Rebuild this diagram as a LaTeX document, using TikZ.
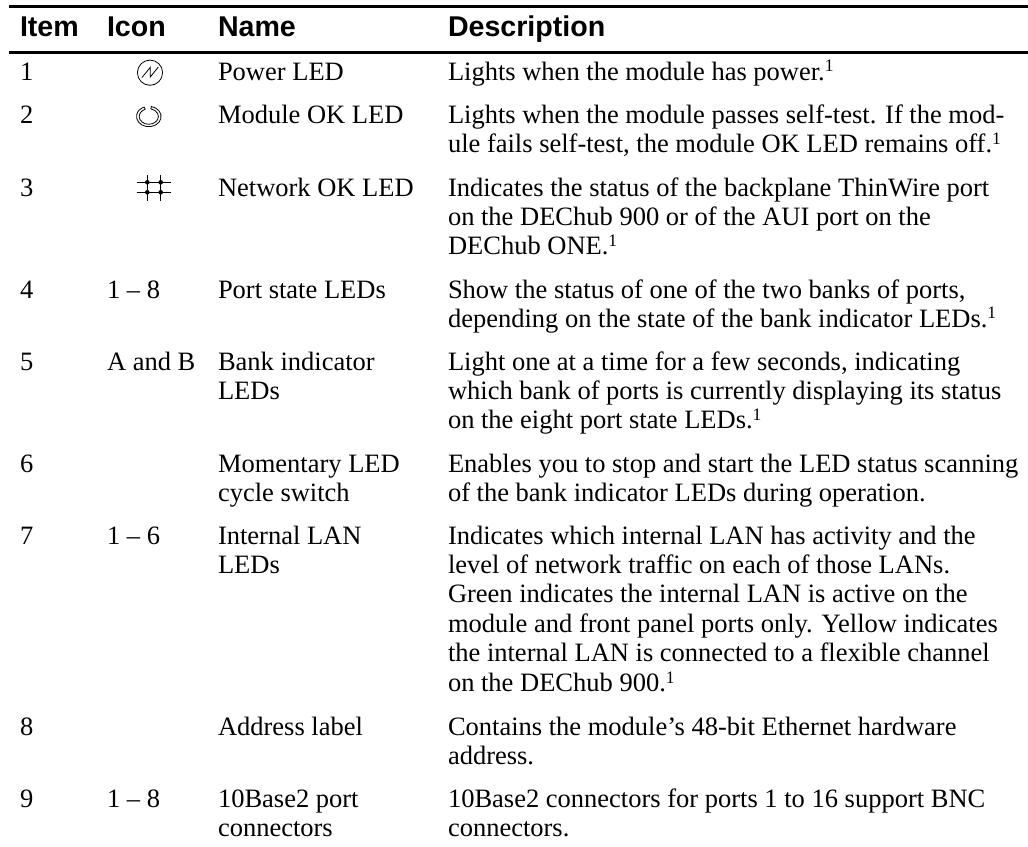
\documentclass[tikz,border=0pt]{standalone}
\usepackage{fontspec}
\setmainfont{Liberation Serif}
\newfontfamily\hdfont{Liberation Sans}
\newcommand{\bodysize}{\fontsize{26.5}{29.4}\selectfont}
\newcommand{\fn}{\raisebox{8.3pt}{\fontsize{17.5}{17.5}\selectfont 1}}
\begin{document}
\begin{tikzpicture}[x=1pt,y=-1pt,
  cell/.style={anchor=base west,inner sep=0pt,outer sep=0pt,font=\bodysize},
  head/.style={anchor=base west,inner sep=0pt,outer sep=0pt,font=\hdfont\bfseries\fontsize{28.6}{34}\selectfont},
  rulea/.style={line width=3pt,black},
  ico/.style={line width=0.8pt,black},
  gridline/.style={line width=1.1pt,black},
  griddot/.style={circle,fill=black,inner sep=0pt,minimum size=4.6pt}]
\useasboundingbox[fill=white] (0,0) rectangle (1028,846);
\coordinate (tl) at (9,6.7); \coordinate (tr) at (1028,6.7);
\coordinate (ml) at (9,52.8); \coordinate (mr) at (1028,52.8);
\draw[rulea] (tl)--(tr);
\draw[rulea] (ml)--(mr);
\node[head] (h1) at (20,36) {Item};
\node[head] (h2) at (107,36) {Icon};
\node[head] (h3) at (218,36) {Name};
\node[head] (h4) at (448,36) {Description};
% row 1
\node[cell] (i1) at (20,80) {1};
\node[cell] (n1) at (218,80) {Power LED};
\node[cell] (d1) at (448,80) {Lights when the module has power.\fn};
\coordinate (c1) at (150,72.7);
\draw[ico] (c1) circle (12.6);
\draw[ico,line join=miter] (142,77.5) -- (150.3,67.3) -- (150.3,77) -- (158.3,67);
% row 2
\node[cell] (i2) at (20,123.3) {2};
\node[cell] (n2) at (218,123.3) {Module OK LED};
\node[cell] (d2a) at (448,123.3) {Lights when the module passes self-test. If the mod-};
\node[cell] (d2b) at (448,152.7) {ule fails self-test, the module OK LED remains off.\fn};
\coordinate (c2) at (148.8,116.5);
\draw[ico,line join=round] (c2) ++(-78:12.3 and 10.2) arc[start angle=-78,end angle=248,x radius=12.3,y radius=10.2]
  -- ++(1.0,2.2) arc[start angle=248,end angle=-78,x radius=9.6,y radius=7.8] -- cycle;
% row 3
\node[cell] (i3) at (20,196) {3};
\node[cell] (n3) at (218,196) {Network OK LED};
\node[cell] (d3a) at (448,196) {Indicates the status of the backplane ThinWire port};
\node[cell] (d3b) at (448,225.4) {on the DEChub 900 or of the AUI port on the};
\node[cell] (d3c) at (448,254.8) {DEChub ONE.\fn};
\coordinate (g1) at (137.3,182.3); \coordinate (g2) at (170.7,182.3);
\coordinate (g3) at (137.3,192.3); \coordinate (g4) at (170.7,192.3);
\coordinate (g5) at (147.3,175); \coordinate (g6) at (147.3,200.7);
\coordinate (g7) at (160.7,175); \coordinate (g8) at (160.7,200.7);
\draw[gridline] (g1)--(g2) (g3)--(g4) (g5)--(g6) (g7)--(g8);
\node[griddot] (gd1) at (147.3,182.3) {};
\node[griddot] (gd2) at (160.7,182.3) {};
\node[griddot] (gd3) at (147.3,192.3) {};
\node[griddot] (gd4) at (160.7,192.3) {};
% row 4
\node[cell] (i4) at (20,298.2) {4};
\node[cell] (ic4) at (107,298.2) {1 – 8};
\node[cell] (n4) at (218,298.2) {Port state LEDs};
\node[cell] (d4a) at (448,298.2) {Show the status of one of the two banks of ports,};
\node[cell] (d4b) at (448,327.2) {depending on the state of the bank indicator LEDs.\fn};
% row 5
\node[cell] (i5) at (20,370) {5};
\node[cell] (ic5) at (107,370) {A and B};
\node[cell] (n5a) at (218,370) {Bank indicator};
\node[cell] (n5b) at (218,399.4) {LEDs};
\node[cell] (d5a) at (448,370) {Light one at a time for a few seconds, indicating};
\node[cell] (d5b) at (448,399.4) {which bank of ports is currently displaying its status};
\node[cell] (d5c) at (448,428.8) {on the eight port state LEDs.\fn};
% row 6
\node[cell] (i6) at (20,472) {6};
\node[cell] (n6a) at (218,472) {Momentary LED};
\node[cell] (n6b) at (218,501.2) {cycle switch};
\node[cell] (d6a) at (448,472) {Enables you to stop and start the LED status scanning};
\node[cell] (d6b) at (448,501.2) {of the bank indicator LEDs during operation.};
% row 7
\node[cell] (i7) at (20,544.3) {7};
\node[cell] (ic7) at (107,544.3) {1 – 6};
\node[cell] (n7a) at (218,544.3) {Internal LAN};
\node[cell] (n7b) at (218,573.5) {LEDs};
\node[cell] (d7a) at (448,544.3) {Indicates which internal LAN has activity and the};
\node[cell] (d7b) at (448,573.5) {level of network traffic on each of those LANs.};
\node[cell] (d7c) at (448,602.7) {Green indicates the internal LAN is active on the};
\node[cell] (d7d) at (448,632) {module and front panel ports only. Yellow indicates};
\node[cell] (d7e) at (448,661.7) {the internal LAN is connected to a flexible channel};
\node[cell] (d7f) at (448,691.4) {on the DEChub 900.\fn};
% row 8
\node[cell] (i8) at (20,735.5) {8};
\node[cell] (n8) at (218,735.5) {Address label};
\node[cell] (d8a) at (448,735.5) {Contains the module’s 48-bit Ethernet hardware};
\node[cell] (d8b) at (448,764.5) {address.};
% row 9
\node[cell] (i9) at (20,807) {9};
\node[cell] (ic9) at (107,807) {1 – 8};
\node[cell] (n9a) at (218,807) {10Base2 port};
\node[cell] (n9b) at (218,836.5) {connectors};
\node[cell] (d9a) at (448,807) {10Base2 connectors for ports 1 to 16 support BNC};
\node[cell] (d9b) at (448,836.5) {connectors.};
\end{tikzpicture}
\end{document}
